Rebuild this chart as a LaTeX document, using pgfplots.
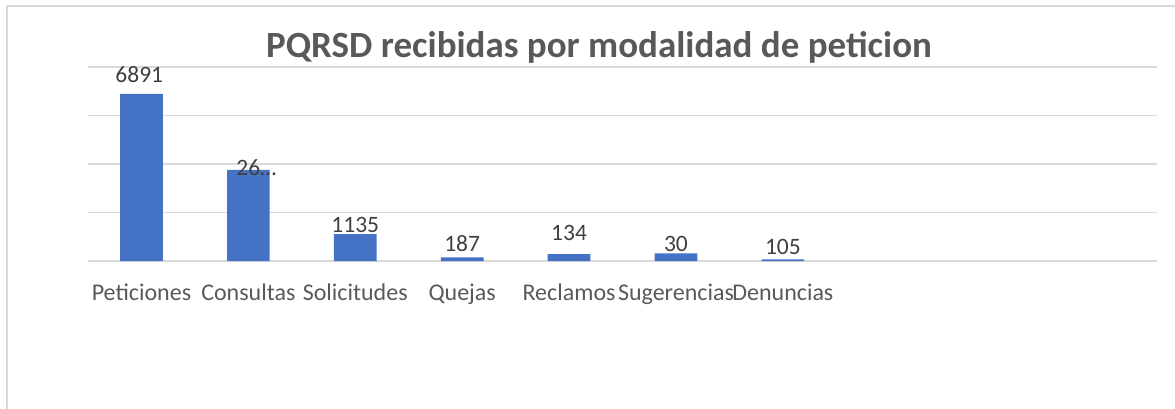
\documentclass[border=0pt]{standalone}
\usepackage{pgfplots}
\pgfplotsset{compat=1.18}
\usepackage{fontspec}
\setmainfont{Carlito}
\definecolor{barblue}{HTML}{4472C4}
\definecolor{gridgray}{HTML}{D9D9D9}
\definecolor{txtgray}{HTML}{595959}
\definecolor{lblgray}{HTML}{404040}
\begin{document}
\begin{tikzpicture}[x=1pt,y=1pt]
\path[use as bounding box] (0,0) rectangle (1175,-408);
\draw[gridgray, line width=1.5pt] (7,-410) -- (7,-6) -- (1177,-6);
\node[font=\bfseries\fontsize{37}{44}\selectfont, color=txtgray, anchor=base] at (599,-57) {PQRSD recibidas por modalidad de peticion};
\begin{axis}[
  at={(88pt,-261pt)}, anchor=south west,
  scale only axis, width=1069pt, height=194pt,
  xmin=-0.5, xmax=9.5, ymin=0, ymax=8000,
  axis line style={draw=none},
  major tick length=0pt,
  ytick={0,2000,4000,6000,8000}, yticklabels={},
  ymajorgrids, grid style={gridgray, line width=1.3pt},
  xtick={0,1,2,3,4,5,6},
  xticklabels={Peticiones,Consultas,Solicitudes,Quejas,Reclamos,Sugerencias,Denuncias},
  xticklabel style={font=\fontsize{24}{28}\selectfont, color=txtgray, anchor=base, yshift=-39pt, inner sep=0pt},
  clip=false,
]
\addplot[ybar, bar width=42.7pt, fill=barblue, draw=none] coordinates {
  (0,6891) (1,3753) (2,1113) (3,153) (4,289) (5,318) (6,70)
};
\addplot[draw=none, mark=none, nodes near coords, point meta=explicit symbolic,
  every node near coord/.style={anchor=base, inner sep=0pt, font=\fontsize{23.5}{27}\selectfont, color=lblgray}]
  coordinates {
  (-0.02,7353)[6891] (1.075,3546)[26…] (2,1167)[1135] (3,384)[187] (4,866)[134] (5,412)[30] (6,276)[105]
};
\end{axis}
\end{tikzpicture}
\end{document}
